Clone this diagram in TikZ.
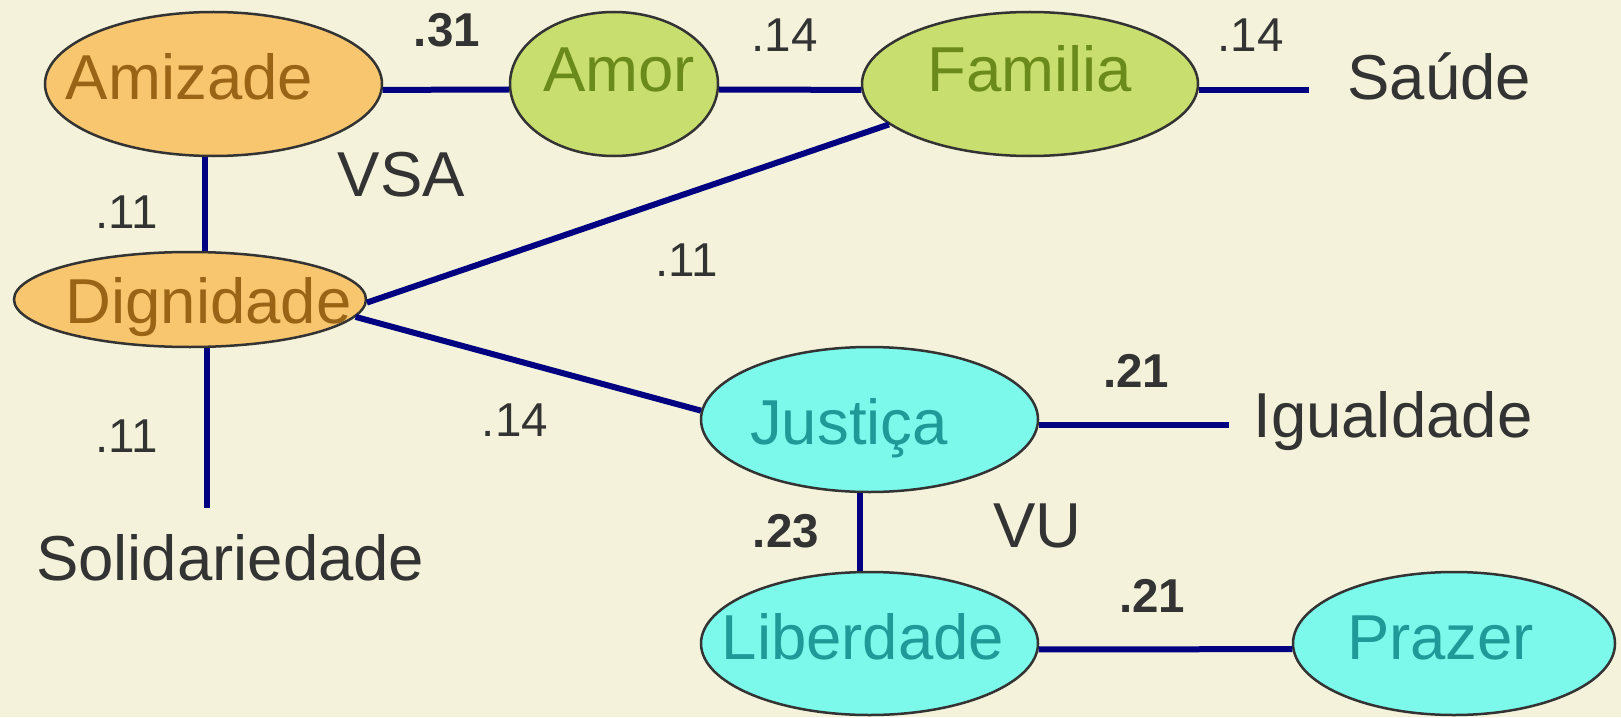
\documentclass[tikz,border=0pt]{standalone}
\usepackage{fontspec}
\setmainfont{Liberation Sans}
\usetikzlibrary{shapes.geometric}
\usepackage{xcolor}
\definecolor{paper}{HTML}{F4F2DA}
\definecolor{ink}{HTML}{333333}
\definecolor{wire}{HTML}{000080}
\definecolor{orangefill}{HTML}{F8C66E}
\definecolor{orangetext}{HTML}{9A6417}
\definecolor{greenfill}{HTML}{C8DE6E}
\definecolor{greentext}{HTML}{6A8A1C}
\definecolor{cyanfill}{HTML}{7CF9EB}
\definecolor{cyantext}{HTML}{1F9A98}
\newcommand{\nm}[2][0pt]{\makebox[0pt]{\kern#1\relax#2\kern-#1\relax}}

\begin{document}
\begin{tikzpicture} [x=0.5pt, y=-0.5pt,
        val/.style = {draw=ink, ellipse, line width=1.25pt, inner sep=0pt, text depth=0pt, font=\fontsize{31.75}{38}\selectfont},
        vsa/.style = {val, fill=orangefill, text=orangetext},
        fam/.style = {val, fill=greenfill, text=greentext},
        vu/.style = {val, fill=cyanfill, text=cyantext},
        word/.style = {anchor=base west, inner sep=0pt, text=ink, font=\fontsize{31.75}{38}\selectfont},
        num/.style = {anchor=base, inner sep=0pt, text=ink, font=\fontsize{23.75}{28}\selectfont},
        bnum/.style = {num, font=\fontsize{23.75}{28}\selectfont\bfseries},
        link/.style = {draw=wire, line width=3pt}]
        \fill[paper] (0,0) rectangle (1621,717);
        \useasboundingbox (0,0) rectangle (1621,717);

        %Knoten
        \node[vsa, minimum width=168.5pt, minimum height=72pt, text height=15pt] (amizade) at (213.5,84) {\nm[-12pt]{Amizade}};
        \node[fam, minimum width=104pt, minimum height=72pt, text height=8pt] (amor) at (614,84) {\nm[2.5pt]{Amor}};
        \node[fam, minimum width=168pt, minimum height=72pt, text height=8pt] (familia) at (1030,84) {\nm{Familia}};
        \node[vsa, minimum width=176pt, minimum height=47.5pt, text height=23.5pt] (dignidade) at (190,299.5) {\nm[9.25pt]{Dignidade}};
        \node[vu, minimum width=168.5pt, minimum height=72.5pt, text height=24.5pt] (justica) at (869.5,419.5) {\nm[-10.25pt]{Justiça}};
        \node[vu, minimum width=168.5pt, minimum height=71.5pt, text height=15.5pt] (liberdade) at (869.5,643.5) {\nm[-3.25pt]{Liberdade}};
        \node[vu, minimum width=161pt, minimum height=71.5pt, text height=15.5pt] (prazer) at (1454,643.5) {\nm[-6.75pt]{Prazer}};

        \node[word] (saude) at (1347,100) {Saúde};
        \node[word] (solidariedade) at (35.6,580) {Solidariedade};
        \node[word] (igualdade) at (1253,437) {Igualdade};
        \node[word, anchor=base] (vsalabel) at (401.5,196) {VSA};
        \node[word, anchor=base] (vulabel) at (1037.5,547) {VU};

        %Kanten
        \draw[link] (amizade.-2.4) -- (amor.183.9);
        \draw[link] (amor.-3.9) -- (familia.182.4);
        \draw[link, shorten >=19pt] (familia.-2.4) -- (familia.-2.4 -| saude.west);
        \draw[link] (amizade.263.6) -- (amizade.263.6 |- dignidade.north);
        \draw[link, shorten >=13pt] (dignidade.-71.9) -- (dignidade.-71.9 |- solidariedade.north);
        \draw[link] (dignidade.-1) -- (familia.196);
        \draw[link] (dignidade.-6) -- (justica.177.5);
        \draw[link, shorten >=12pt] (justica.-2.8) -- (justica.-2.8 -| igualdade.west);
        \draw[link] (justica.263.3) -- (justica.263.3 |- liberdade.north);
        \draw[link] (liberdade.-2.8) -- (prazer.182.9);

        %Werte
        \node[bnum] (w31) at (447,47) {.31};
        \node[num] (w14a) at (784.5,52) {.14};
        \node[num] (w14b) at (1250.5,52) {.14};
        \node[num] (w11a) at (126.5,228) {.11};
        \node[num] (w11b) at (687,276) {.11};
        \node[num] (w11c) at (126.5,452) {.11};
        \node[num] (w14c) at (515,436) {.14};
        \node[bnum] (w21a) at (1136,387) {.21};
        \node[bnum] (w23) at (786,547) {.23};
        \node[bnum] (w21b) at (1152,612) {.21};
    \end{tikzpicture}
\end{document}
